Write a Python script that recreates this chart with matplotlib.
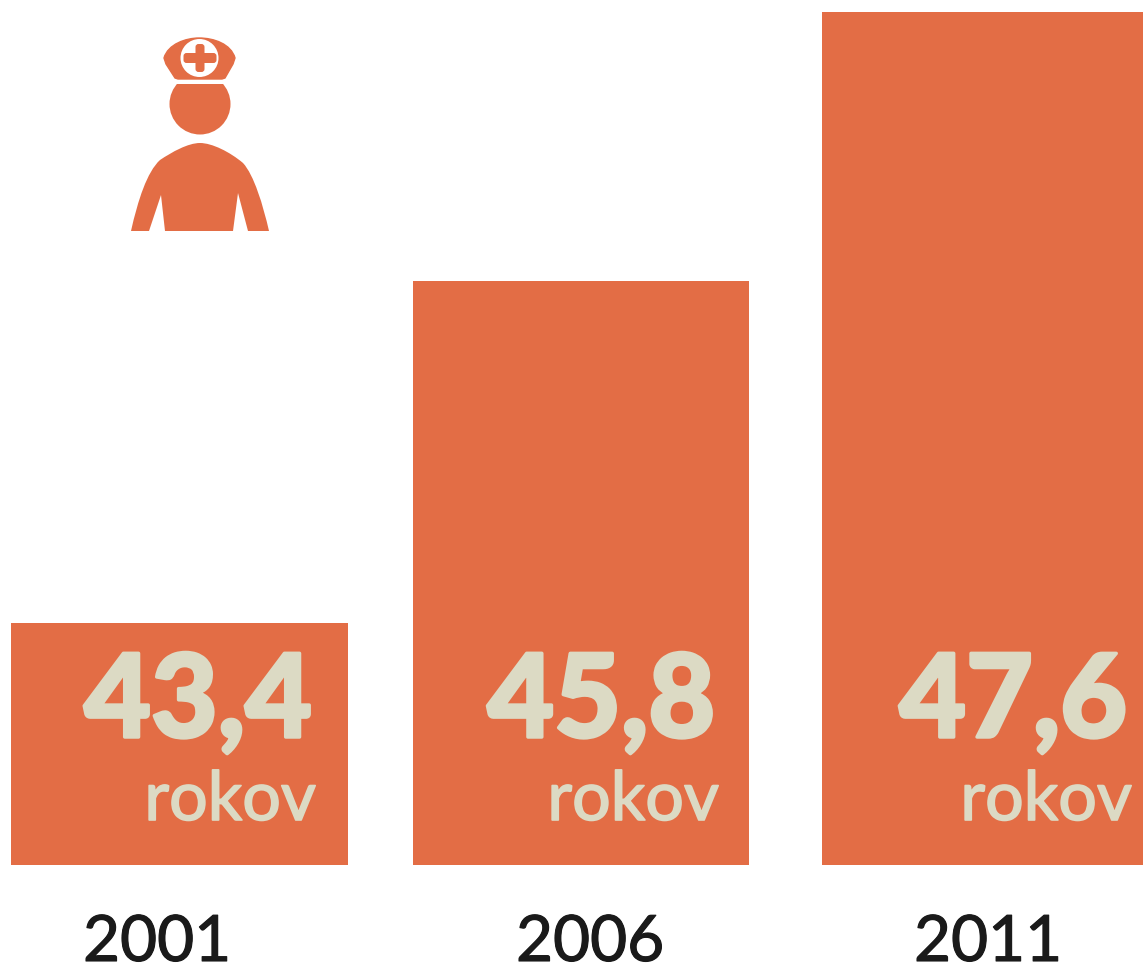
import matplotlib
matplotlib.use('Agg')
import matplotlib.pyplot as plt
import matplotlib.patheffects as pe
from matplotlib.patches import PathPatch, Circle, Rectangle, FancyBboxPatch
from matplotlib.path import Path

years = ['2001', '2006', '2011']
values = ['43,4', '45,8', '47,6']
unit = 'rokov'
# bar heights, the bars are not to a linear scale
bar_heights = [242, 584, 853]
bar_lefts = [11, 413, 822]
bar_widths = [337, 336, 330]
value_right = [312, 715, 1127]
unit_right = [316, 719, 1132]
year_centers = [157, 590, 988]

orange = '#e36d45'
cream = '#dcdac4'
dark = '#1a1a1a'
base = 865

plt.rcParams['font.family'] = ['Lato', 'DejaVu Sans']

fig = plt.figure(figsize=(11.43, 9.65), dpi=100)
ax = fig.add_axes([0, 0, 1, 1])
ax.set_xlim(0, 1143)
ax.set_ylim(base - 965, base)
ax.axis('off')

ax.bar(bar_lefts, bar_heights, width=bar_widths, align='edge', color=orange, linewidth=0)

for i in range(3):
    ax.text(value_right[i], base - 737, values[i], ha='right', va='baseline',
            fontsize=83, fontweight='black', color=cream,
            path_effects=[pe.withStroke(linewidth=2.5, foreground=cream)])
    ax.text(unit_right[i], base - 820, unit, ha='right', va='baseline',
            fontsize=49, color=cream,
            path_effects=[pe.withStroke(linewidth=1.2, foreground=cream)])
    ax.text(year_centers[i], base - 961, years[i], ha='center', va='baseline',
            fontsize=46, color=dark,
            path_effects=[pe.withStroke(linewidth=0.8, foreground=dark)])


# nurse icon, outline in picture pixels
def p(x, y):
    return (x, base - y)


M, L, C4, Z = Path.MOVETO, Path.LINETO, Path.CURVE4, Path.CLOSEPOLY

# hat
hat_verts = [p(164, 58), p(168, 44), p(186, 38), p(199, 38), p(214, 38), p(231, 44), p(235, 58),
             p(233, 64), p(225, 78), p(222, 79), p(178, 79), p(175, 78), p(166, 64), p(164, 58)]
hat_codes = [M, C4, C4, C4, C4, C4, C4, L, L, L, L, L, L, Z]
ax.add_patch(PathPatch(Path(hat_verts, hat_codes), fc=orange, ec=orange, lw=1, zorder=3.6))
ax.add_patch(Circle(p(199.5, 58), 19, fc='white', ec='none', zorder=4))
# cross
ax.add_patch(FancyBboxPatch((195.5, base - 72), 9, 28, boxstyle='round,pad=0,rounding_size=3',
                            fc=orange, ec='none', zorder=5))
ax.add_patch(FancyBboxPatch((183.5, base - 63), 33, 10, boxstyle='round,pad=0,rounding_size=3',
                            fc=orange, ec='none', zorder=5))

# head, flat on top
ax.add_patch(Circle(p(200, 104), 30.5, fc=orange, ec='none', zorder=3))
ax.add_patch(Rectangle((160, base - 84), 80, 12, fc='white', ec='none', zorder=3.5))

# body
body_verts = [p(131, 231), p(138, 200), p(147, 172), p(160, 160), p(172, 152), p(188, 143), p(200, 143),
              p(212, 143), p(230, 152), p(243, 163), p(254, 175), p(263, 205), p(269, 231),
              p(248, 231), p(238, 193), p(233, 231), p(165, 231), p(161, 195), p(149, 231), p(131, 231)]
body_codes = [M, C4, C4, C4, C4, C4, C4, C4, C4, C4, C4, C4, C4, L, L, L, L, L, L, Z]
ax.add_patch(PathPatch(Path(body_verts, body_codes), fc=orange, ec='none', zorder=3))

fig.savefig('out.png', dpi=100)
